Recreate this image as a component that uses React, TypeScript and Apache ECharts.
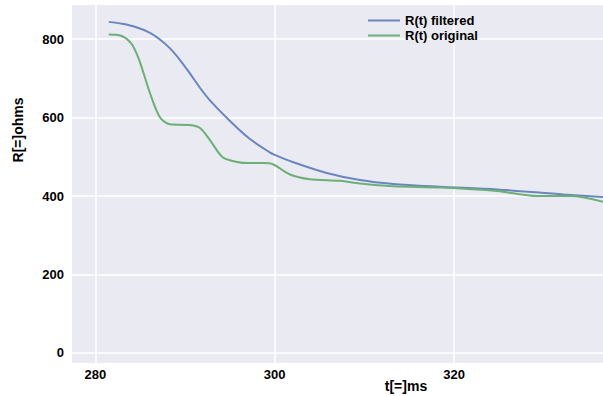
import React, { useEffect, useRef } from "react";
import * as echarts from "echarts";

const filteredT = [281.5, 283.0, 284.5, 286.1, 287.2, 288.3, 289.4, 290.5, 291.6, 292.7, 294.9, 297.1, 299.4, 300.0, 302.0, 305.8, 309.5, 313.2, 318.4, 324.8, 332.2, 337.0];
const filteredR = [844, 839, 831, 816, 799, 777, 748, 714, 678, 646, 594, 548, 512, 505, 487, 459, 441, 431, 424, 417, 404, 397];

const originalT = [281.5, 282.7, 284.0, 284.9, 286.1, 287.2, 288.3, 290.5, 291.7, 292.8, 294.2, 295.8, 297.1, 298.7, 299.8, 301.7, 303.9, 307.3, 309.5, 313.2, 318.4, 324.8, 329.3, 333.0, 337.0];
const originalR = [812, 810, 789, 746, 662, 601, 583, 581, 573, 542, 499, 487, 484, 484, 481, 455, 443, 439, 432, 425, 422, 413, 400, 400, 383];

const xTicks = [280, 300, 320];
const yTicks = [0, 200, 400, 600, 800];

const FONT = "'Liberation Sans', Arial, sans-serif";

export default function App() {
  const ref = useRef<HTMLDivElement>(null);
  useEffect(() => {
    if (!ref.current) return;
    const chart = echarts.init(ref.current, undefined, { renderer: "svg" });
    chart.setOption({
      animation: false,
      backgroundColor: "#ffffff",
      grid: {
        left: 72,
        top: 5,
        right: 0,
        bottom: 33,
        show: true,
        backgroundColor: "#EAEAF2",
        borderWidth: 0,
      },
      legend: {
        orient: "vertical",
        left: 363,
        top: 9,
        itemGap: 2,
        itemWidth: 32,
        itemHeight: 11,
        icon: "path://M0,5 L32,5 L32,7 L0,7 Z",
        textStyle: { fontFamily: FONT, fontWeight: "bold", fontSize: 13, color: "#000", lineHeight: 13 },
        data: ["R(t) filtered", "R(t) original"],
      },
      xAxis: {
        type: "value",
        min: 277.4,
        max: 336.6,
        axisLine: { show: false },
        axisTick: { show: false, customValues: xTicks },
        splitLine: { show: true, lineStyle: { color: "#ffffff", width: 1.5 } },
        axisLabel: {
          fontFamily: FONT,
          fontWeight: "bold",
          fontSize: 13,
          color: "#000",
          margin: 5,
          customValues: xTicks,
        },
      },
      yAxis: {
        type: "value",
        min: -25.5,
        max: 887,
        axisLine: { show: false },
        axisTick: { show: false, customValues: yTicks },
        splitLine: { show: true, lineStyle: { color: "#ffffff", width: 1.5 } },
        axisLabel: {
          fontFamily: FONT,
          fontWeight: "bold",
          fontSize: 13,
          color: "#000",
          margin: 8,
          customValues: yTicks,
        },
      },
      graphic: [
        {
          type: "text",
          x: 18,
          y: 130,
          rotation: Math.PI / 2,
          style: {
            text: "R[=]ohms",
            font: "bold 14px " + FONT,
            fill: "#000",
            align: "center",
            verticalAlign: "middle",
          },
        },
        {
          type: "text",
          x: 406,
          y: 386,
          style: {
            text: "t[=]ms",
            font: "bold 14px " + FONT,
            fill: "#000",
            align: "center",
            verticalAlign: "middle",
          },
        },
      ],
      series: [
        {
          name: "R(t) filtered",
          type: "line",
          data: filteredT.map((t, i) => [t, filteredR[i]]),
          smooth: 0.3,
          showSymbol: false,
          color: "#6A86BE",
          lineStyle: { width: 2, color: "#6A86BE" },
          clip: true,
        },
        {
          name: "R(t) original",
          type: "line",
          data: originalT.map((t, i) => [t, originalR[i]]),
          smooth: 0.3,
          showSymbol: false,
          color: "#6DAF78",
          lineStyle: { width: 2, color: "#6DAF78" },
          clip: true,
        },
      ],
    });
    return () => chart.dispose();
  }, []);
  return <div ref={ref} style={{ width: 603, height: 396, position: "absolute", left: 0, top: 0 }} />;
}
